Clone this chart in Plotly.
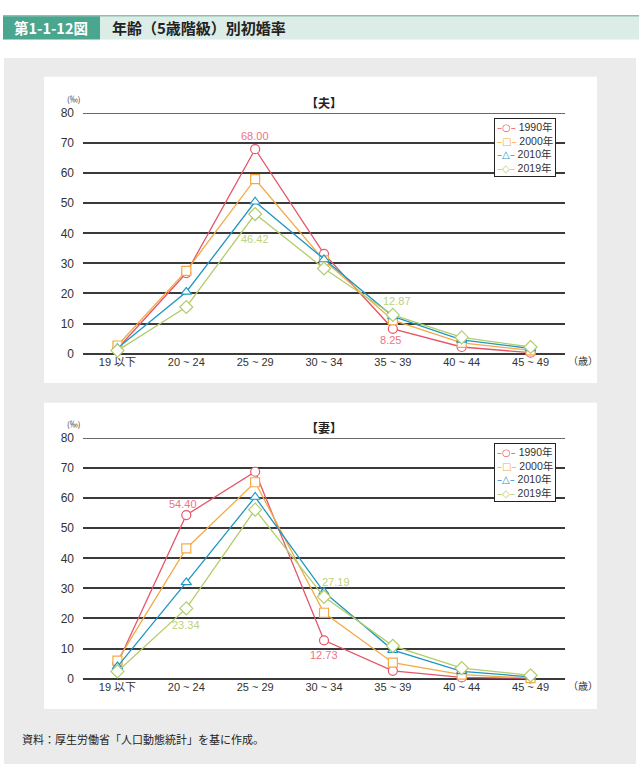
import plotly.graph_objects as go

categories = ["19 以下", "20 ~ 24", "25 ~ 29", "30 ~ 34", "35 ~ 39", "40 ~ 44", "45 ~ 49"]
series_names = ["1990年", "2000年", "2010年", "2019年"]

husband_1990 = [1.6, 26.8, 68.00, 33.2, 8.25, 2.2, 0.3]
husband_2000 = [2.7, 27.5, 58.0, 31.0, 11.1, 3.6, 1.1]
husband_2010 = [1.8, 20.5, 50.5, 31.3, 12.4, 4.6, 1.7]
husband_2019 = [1.0, 15.5, 46.42, 28.3, 12.87, 5.4, 2.2]

wife_1990 = [5.0, 54.40, 68.8, 12.73, 2.6, 0.4, 0.1]
wife_2000 = [6.0, 43.3, 65.3, 21.9, 5.3, 1.3, 0.2]
wife_2010 = [4.0, 32.0, 60.4, 28.8, 9.5, 2.4, 0.6]
wife_2019 = [2.4, 23.34, 56.2, 27.19, 10.9, 3.5, 1.1]

y_ticks = [0, 10, 20, 30, 40, 50, 60, 70, 80]

colors = ["#e5566a", "#f3aa45", "#1f97c0", "#b2cd6a"]
label_colors = ["#ec7585", "#f3aa45", "#1f97c0", "#bcd37c"]
symbols = ["circle", "square", "triangle-up", "diamond"]
legend_glyphs = ["○", "□", "△", "◇"]
FONT = "Liberation Sans, Noto Sans CJK JP"
CJK = "Noto Sans CJK JP"

W, H = 639, 774
def px(x):
    return x / W
def py(y):
    return 1 - y / H

fig = go.Figure()

husband = [husband_1990, husband_2000, husband_2010, husband_2019]
wife = [wife_1990, wife_2000, wife_2010, wife_2019]

for data, xa, ya in [(husband, "x", "y"), (wife, "x2", "y2")]:
    for i, name in enumerate(series_names):
        fig.add_trace(go.Scatter(
            x=categories, y=data[i], name=name, mode="lines+markers",
            line=dict(color=colors[i], width=1.3),
            marker=dict(symbol=symbols[i], size=9 if symbols[i] != "diamond" else 10,
                        color="white", line=dict(color=colors[i], width=1.2)),
            xaxis=xa, yaxis=ya, showlegend=False, cliponaxis=False))

GRID = "#3a3a3a"
xdom = [px(83), px(565)]
axis_common = dict(showline=False, zeroline=False, ticks="", showgrid=False,
                   range=[-0.5, 6.5],
                   tickfont=dict(family=FONT, size=11, color="#333"))
yax_common = dict(range=[0, 80], tickvals=y_ticks, showgrid=True,
                  gridcolor=GRID, gridwidth=1.5, zeroline=True, zerolinecolor=GRID,
                  zerolinewidth=1.5, showline=False,
                  ticks="", tickfont=dict(family=FONT, size=12, color="#333"),
                  ticklabelstandoff=8)

shapes = [
    dict(type="rect", xref="paper", yref="paper", x0=px(4), x1=px(636), y0=py(771), y1=py(52),
         fillcolor="#ebebeb", line=dict(width=0), layer="below"),
    dict(type="rect", xref="paper", yref="paper", x0=px(44), x1=px(597), y0=py(383), y1=py(71),
         fillcolor="white", line=dict(width=0), layer="below"),
    dict(type="rect", xref="paper", yref="paper", x0=px(44), x1=px(597), y0=py(715), y1=py(403),
         fillcolor="white", line=dict(width=0), layer="below"),
    dict(type="rect", xref="paper", yref="paper", x0=px(100), x1=px(639), y0=py(33), y1=py(9),
         fillcolor="#dcece7", line=dict(width=0), layer="below"),
    dict(type="rect", xref="paper", yref="paper", x0=px(3), x1=px(100), y0=py(33), y1=py(9),
         fillcolor="#4aa68e", line=dict(width=0), layer="below"),
    dict(type="line", xref="paper", yref="paper", x0=px(3), x1=px(639), y0=py(9), y1=py(9),
         line=dict(color="#8fbfb1", width=1.5), layer="below"),
    dict(type="line", xref="x domain", yref="y", x0=0, x1=1, y0=y_ticks[-1], y1=y_ticks[-1],
         line=dict(color=GRID, width=1.5), layer="below"),
    dict(type="line", xref="x2 domain", yref="y2", x0=0, x1=1, y0=y_ticks[-1], y1=y_ticks[-1],
         line=dict(color=GRID, width=1.5), layer="below"),
]

annotations = [
    dict(text="<b>第1-1-12図</b>", x=px(51), y=py(21), xref="paper", yref="paper", showarrow=False,
         font=dict(family=CJK, size=14.5, color="white"), xanchor="center", yanchor="middle"),
    dict(text="<b>年齢（5歳階級）別初婚率</b>", x=px(110), y=py(21), xref="paper", yref="paper",
         showarrow=False, font=dict(family=CJK, size=15, color="#222"), xanchor="left", yanchor="middle"),
    dict(text="資料：厚生労働省「人口動態統計」を基に作成。", x=px(20), y=py(745), xref="paper", yref="paper",
         showarrow=False, font=dict(family=CJK, size=11, color="#222"), xanchor="left", yanchor="middle"),
]

legend_text = "<br>".join(
    f"<span style='color:{colors[i]};font-family:DejaVu Sans;font-size:10px'>–{legend_glyphs[i]}–</span> {series_names[i]}"
    for i in range(4))

for y0pix, title in [(353, "【夫】"), (684, "【妻】")]:
    y80 = y0pix - 245
    annotations.append(dict(text="<b>" + title + "</b>", x=px(324), y=py(y80 - 11), xref="paper", yref="paper",
                            showarrow=False, font=dict(family=CJK, size=12, color="#222"),
                            xanchor="center", yanchor="middle"))
    annotations.append(dict(text="(‰)", x=px(73), y=py(y80 - 15), xref="paper", yref="paper",
                            showarrow=False, font=dict(family=CJK, size=8, color="#333"),
                            xanchor="center", yanchor="middle"))
    annotations.append(dict(text="（歳）", x=px(566), y=py(y0pix + 7), xref="paper", yref="paper",
                            showarrow=False, font=dict(family=CJK, size=10, color="#333"),
                            xanchor="left", yanchor="middle"))
    annotations.append(dict(text=legend_text, x=px(494), y=py(y80 + 5), xref="paper", yref="paper",
                            showarrow=False, align="left", xanchor="left", yanchor="top",
                            font=dict(family=FONT, size=10.5, color="#333"),
                            bgcolor="white", bordercolor="#222", borderwidth=1, borderpad=2))

def lab(xref, yref, xi, val, color, dx, dy):
    return dict(text=f"{val:.2f}", x=categories[xi], y=val, xref=xref, yref=yref, showarrow=False,
                font=dict(family=FONT, size=11, color=color), xshift=dx, yshift=dy)

annotations += [
    lab("x", "y", 2, husband_1990[2], label_colors[0], 0, 13),
    lab("x", "y", 2, husband_2019[2], label_colors[3], 0, -25),
    lab("x", "y", 4, husband_2019[4], label_colors[3], 4, 14),
    lab("x", "y", 4, husband_1990[4], label_colors[0], -2, -11),
    lab("x2", "y2", 1, wife_1990[1], label_colors[0], -3, 11),
    lab("x2", "y2", 1, wife_2019[1], label_colors[3], 0, -17),
    lab("x2", "y2", 3, wife_1990[3], label_colors[0], 0, -15),
    lab("x2", "y2", 3, wife_2019[3], label_colors[3], 12, 15),
]

fig.update_layout(
    width=W, height=H, margin=dict(l=0, r=0, t=0, b=0),
    paper_bgcolor="white", plot_bgcolor="rgba(0,0,0,0)",
    showlegend=False,
    xaxis=dict(domain=xdom, anchor="y", **axis_common),
    yaxis=dict(domain=[py(353), py(108)], anchor="x", **yax_common),
    xaxis2=dict(domain=xdom, anchor="y2", **axis_common),
    yaxis2=dict(domain=[py(684), py(439)], anchor="x2", **yax_common),
    shapes=shapes, annotations=annotations,
)

fig.write_html("out.html")
